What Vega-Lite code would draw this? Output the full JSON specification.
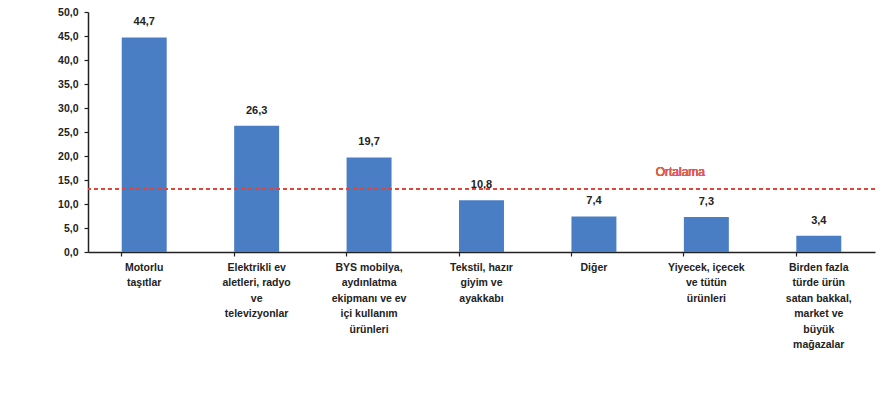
{
  "$schema": "https://vega.github.io/schema/vega-lite/v6.json",
  "autosize": {"type": "none"},
  "width": 787,
  "height": 240,
  "padding": {"left": 88, "top": 12, "right": 17, "bottom": 141},
  "background": "white",
  "config": {
    "locale": {"number": {"decimal": ",", "thousands": ".", "grouping": [3], "currency": ["", " TL"]}},
    "view": {"stroke": null},
    "font": "Liberation Sans",
    "axis": {"domainColor": "#222", "tickColor": "#222", "domainWidth": 1.5, "tickWidth": 1.2, "labelColor": "#222", "labelFont": "Liberation Sans", "labelFontWeight": "bold", "labelFontSize": 10.5, "grid": false},
    "axisY": {"values": [0, 5, 10, 15, 20, 25, 30, 35, 40, 45, 50], "format": ".1f", "labelOverlap": false, "tickSize": 4, "labelPadding": 6, "title": null}
  },
  "data": {"values": [
    {"kategori": "Motorlu|taşıtlar", "deger": 44.7},
    {"kategori": "Elektrikli ev|aletleri, radyo|ve|televizyonlar", "deger": 26.3},
    {"kategori": "BYS mobilya,|aydınlatma|ekipmanı ve ev|içi kullanım|ürünleri", "deger": 19.7},
    {"kategori": "Tekstil, hazır|giyim ve|ayakkabı", "deger": 10.8},
    {"kategori": "Diğer", "deger": 7.4},
    {"kategori": "Yiyecek, içecek|ve tütün|ürünleri", "deger": 7.3},
    {"kategori": "Birden fazla|türde ürün|satan bakkal,|market ve|büyük|mağazalar", "deger": 3.4}
  ]},
  "encoding": {
    "x": {
      "field": "kategori", "type": "nominal",
      "sort": ["Motorlu|taşıtlar", "Elektrikli ev|aletleri, radyo|ve|televizyonlar", "BYS mobilya,|aydınlatma|ekipmanı ve ev|içi kullanım|ürünleri", "Tekstil, hazır|giyim ve|ayakkabı", "Diğer", "Yiyecek, içecek|ve tütün|ürünleri", "Birden fazla|türde ürün|satan bakkal,|market ve|büyük|mağazalar"],
      "scale": {"paddingInner": 0.6, "paddingOuter": 0.3},
      "axis": {"title": null, "labelAngle": 0, "labelExpr": "split(datum.label, '|')", "labelLineHeight": 15.5, "labelPadding": 6, "tickSize": 4, "bandPosition": 0, "labelBaseline": "top"}
    },
    "y": {"field": "deger", "type": "quantitative", "scale": {"domain": [0, 50]},
      "axis": {"title": null, "values": [0, 5, 10, 15, 20, 25, 30, 35, 40, 45, 50], "format": ".1f", "labelOverlap": false}}
  },
  "layer": [
    {
      "mark": {"type": "bar", "color": "#4A7EC4"}
    },
    {
      "mark": {"type": "text", "baseline": "bottom", "dy": -10, "fontWeight": "bold", "fontSize": 11, "color": "#222"},
      "encoding": {
        "text": {"field": "deger", "type": "quantitative", "format": ".1f"}
      }
    },
    {
      "mark": {"type": "rule", "color": "#E0453A", "strokeDash": [4, 3], "strokeWidth": 2},
      "encoding": {"y": {"datum": 13.1, "axis": {"title": null, "values": [0, 5, 10, 15, 20, 25, 30, 35, 40, 45, 50], "format": ".1f", "labelOverlap": false}}, "x": null}
    },
    {
      "mark": {"type": "text", "color": "#E35A4E", "fontSize": 12, "fontWeight": "normal", "dy": -17, "dx": -26, "baseline": "middle"},
      "encoding": {"y": {"datum": 13.1, "axis": {"title": null, "values": [0, 5, 10, 15, 20, 25, 30, 35, 40, 45, 50], "format": ".1f", "labelOverlap": false}}, "x": {"datum": "Yiyecek, içecek|ve tütün|ürünleri"}, "text": {"value": "Ortalama"}}
    }
  ]
}
